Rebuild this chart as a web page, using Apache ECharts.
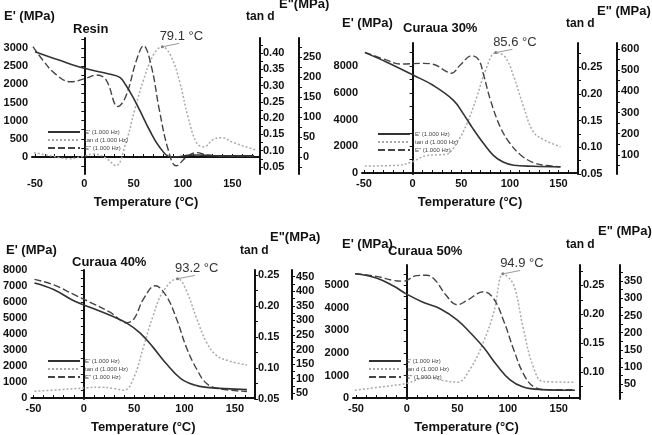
<!DOCTYPE html>
<html>
<head>
<meta charset="utf-8">
<script src="https://cdn.jsdelivr.net/npm/echarts@6/dist/echarts.min.js"></script>
<style>
html,body{margin:0;padding:0;background:#fff}
#chart{width:652px;height:435px}
</style>
</head>
<body>
<div id="chart"></div>
<script>
// ---- data: [temperature °C, value] ----
// Resin
var resinStorage = [[-50,2898],[-25,2660],[0,2440],[25,2285],[36,2193],[42,1982],[49,1660],[56,1294],[66,743],[76,284],[87,8],[95,5],[105,45],[115,55],[130,35],[172,30]];
var resinLoss = [[-52,276],[-42,242],[-30,209],[-14,188],[2,197],[12,205],[22,193],[34,126],[42,151],[53,243],[60,278],[68,226],[76,118],[85,18],[93,-22],[104,1],[114,11],[124,5],[151,2],[174,2]];
var resinTan = [[-51,0.094],[-33,0.084],[-16,0.075],[-2,0.082],[10,0.090],[22,0.077],[32,0.054],[42,0.123],[51,0.225],[60,0.317],[70,0.394],[79,0.419],[88,0.389],[97,0.307],[105,0.204],[114,0.123],[121,0.112],[131,0.135],[139,0.140],[151,0.125],[174,0.102]];
// Curaua 30%
var c30Storage = [[-49,9000],[-27,8300],[1,7305],[21,6557],[42,5436],[52,4440],[62,3320],[73,2198],[83,1323],[93,822],[104,576],[124,500],[152,450]];
var c30Loss = [[-49,584],[-27,548],[-13,529],[11,532],[21,528],[35,493],[40,485],[49,524],[61,568],[68,548],[73,477],[80,359],[90,233],[100,155],[111,100],[124,64],[138,50],[152,45]];
var c30Tan = [[-49,0.065],[-17,0.066],[0,0.073],[13,0.084],[27,0.086],[35,0.087],[45,0.107],[56,0.145],[66,0.194],[75,0.244],[85.6,0.277],[95,0.269],[104,0.232],[114,0.176],[124,0.129],[135,0.114],[152,0.101]];
// Curaua 40%
var c40Storage = [[-49,7194],[-30,6788],[-10,6079],[10,5576],[26,5170],[43,4667],[56,4060],[69,3150],[82,2140],[96,1230],[109,830],[122,667],[162,527]];
var c40Loss = [[-49,441],[-30,422],[-10,389],[10,356],[26,328],[43,292],[50,306],[59,372],[71,419],[82,383],[92,306],[102,206],[112,133],[122,83],[135,65],[162,56]];
var c40Tan = [[-49,0.0625],[-24,0.065],[3,0.068],[16,0.069],[30,0.067],[40,0.064],[50,0.086],[59,0.133],[69,0.185],[79,0.224],[93.2,0.244],[102,0.224],[112,0.180],[122,0.141],[132,0.120],[145,0.111],[162,0.105]];
// Curaua 50%
var c50Storage = [[-51,5517],[-30,5330],[-13,4970],[0,4612],[16,4254],[33,3966],[50,3461],[63,2888],[76,2241],[89,1453],[102,806],[115,487],[132,375],[166,345]];
var c50Loss = [[-51,372],[-30,364],[-13,352],[-3,350],[10,366],[20,367],[29,350],[38,312],[50,281],[59,293],[76,319],[86,298],[96,232],[106,147],[115,81],[125,43],[138,34],[166,34]];
var c50Tan = [[-51,0.068],[-19,0.075],[0,0.080],[20,0.090],[36,0.085],[50,0.082],[63,0.106],[76,0.153],[86,0.204],[94.9,0.270],[99,0.266],[106,0.249],[115,0.176],[125,0.108],[135,0.083],[166,0.082]];

// peak annotations (tan d)
var peaks = [[79.1, 0.419], [85.6, 0.277], [93.2, 0.244], [94.9, 0.270]];
var peakLabels = ['79.1 °C', '85.6 °C', '93.2 °C', '94.9 °C'];
var panelTitles = ['Resin', 'Curaua 30%', 'Curaua 40%', 'Curaua 50%'];
var seriesNames = ["E' (1.000 Hz)", 'tan d (1.000 Hz)', 'E" (1.000 Hz)'];

// tick labels
var tempTicks = [-50, 0, 50, 100, 150];
var storageTicks = [
  [0, 500, 1000, 1500, 2000, 2500, 3000],
  [0, 2000, 4000, 6000, 8000],
  [0, 1000, 2000, 3000, 4000, 5000, 6000, 7000, 8000],
  [0, 1000, 2000, 3000, 4000, 5000]
];
var tanTicks = [
  [0.05, 0.10, 0.15, 0.20, 0.25, 0.30, 0.35, 0.40],
  [0.05, 0.10, 0.15, 0.20, 0.25],
  [0.05, 0.10, 0.15, 0.20, 0.25],
  [0.10, 0.15, 0.20, 0.25]
];
var lossTicks = [
  [0, 50, 100, 150, 200, 250],
  [100, 200, 300, 400, 500, 600],
  [50, 100, 150, 200, 250, 300, 350, 400, 450],
  [50, 100, 150, 200, 250, 300, 350]
];

var storage = [resinStorage, c30Storage, c40Storage, c50Storage];
var loss = [resinLoss, c30Loss, c40Loss, c50Loss];
var tan = [resinTan, c30Tan, c40Tan, c50Tan];

// ---- layout of each panel ----
var layout = [
  {grid: {left: 32, top: 38, width: 228, height: 136}, x: [-53, 178], ep: [-468, 3275], td: [0.0285, 0.446], epp: [-42.5, 297.5], off: 39,
   leg: [42, 124], titles: [[4, 18, "E' (MPa)"], [246, 19, 'tan d'], [279, 6, 'E"(MPa)'], [73, 31]]},
  {grid: {left: 362, top: 43, width: 216, height: 131}, x: [-52, 170], ep: [-75, 9720], td: [0.05, 0.295], epp: [10, 628], off: 39,
   leg: [372, 126], titles: [[342, 25, "E' (MPa)"], [566, 26, 'tan d'], [597, 13, 'E" (MPa)'], [403, 30]]},
  {grid: {left: 31, top: 270, width: 224, height: 133}, x: [-52, 170], ep: [-60, 8000], td: [0.05, 0.258], epp: [30, 473], off: 37,
   leg: [42, 353], titles: [[6, 252, "E' (MPa)"], [240, 253, 'tan d'], [270, 239, 'E"(MPa)'], [72, 264]]},
  {grid: {left: 353, top: 265, width: 227, height: 138}, x: [-53, 171], ep: [-43, 5905], td: [0.0528, 0.2854], epp: [6.7, 397], off: 40,
   leg: [363, 353], titles: [[342, 246, "E' (MPa)"], [566, 247, 'tan d'], [598, 233, 'E" (MPa)'], [388, 253]]}
];

function steps(a, b, s) {
  var out = [];
  for (var v = Math.ceil(a / s) * s; v <= b + 1e-9; v += s) out.push(+v.toFixed(4));
  return out;
}
function plain(v) { return String(v); }

var font = 'Liberation Sans, Arial, sans-serif';
var axisLine = {show: true, lineStyle: {color: '#111', width: 2}};

var grids = [], xAxes = [], yAxes = [], series = [], legends = [], graphics = [];

layout.forEach(function (p, i) {
  grids.push(p.grid);
  xAxes.push({
    type: 'value', gridIndex: i, min: p.x[0], max: p.x[1],
    name: 'Temperature (°C)', nameLocation: 'middle', nameGap: 22,
    nameTextStyle: {fontFamily: font, fontWeight: 'bold', fontSize: 13, color: '#111'},
    axisLine: axisLine,
    axisTick: {show: true, inside: true, length: 3, customValues: steps(p.x[0], p.x[1], 10), lineStyle: {color: '#111'}},
    axisLabel: {customValues: tempTicks, formatter: plain, fontFamily: font, fontWeight: 'bold', fontSize: 11, color: '#111', margin: 4},
    splitLine: {show: false}
  });
  var st = storageTicks[i], tt = tanTicks[i], lt = lossTicks[i];
  yAxes.push({
    type: 'value', gridIndex: i, position: 'left', min: p.ep[0], max: p.ep[1],
    axisLine: axisLine,
    axisTick: {show: true, length: 3, customValues: steps(p.ep[0], p.ep[1], (st[1] - st[0]) / 2), lineStyle: {color: '#111'}},
    axisLabel: {customValues: st, formatter: plain, fontFamily: font, fontWeight: 'bold', fontSize: 11, color: '#111', margin: 4},
    splitLine: {show: false}
  });
  yAxes.push({
    type: 'value', gridIndex: i, position: 'right', min: p.td[0], max: p.td[1],
    axisLine: axisLine,
    axisTick: {show: true, length: 3, customValues: steps(p.td[0], p.td[1], 0.025), lineStyle: {color: '#111'}},
    axisLabel: {customValues: tt, formatter: function (v) { return v.toFixed(2); },
      fontFamily: font, fontWeight: 'bold', fontSize: 11, color: '#111', margin: 3},
    splitLine: {show: false}
  });
  yAxes.push({
    type: 'value', gridIndex: i, position: 'right', offset: p.off, min: p.epp[0], max: p.epp[1],
    axisLine: axisLine,
    axisTick: {show: true, length: 3, customValues: steps(p.epp[0], p.epp[1], (lt[1] - lt[0]) / 2), lineStyle: {color: '#111'}},
    axisLabel: {customValues: lt, formatter: plain, fontFamily: font, fontWeight: 'bold', fontSize: 11, color: '#111', margin: 4},
    splitLine: {show: false}
  });
  var y0 = i * 3;
  series.push({
    name: seriesNames[0], type: 'line', xAxisIndex: i, yAxisIndex: y0, data: storage[i],
    smooth: 0.4, symbol: 'none', lineStyle: {color: '#333', width: 1.6}, itemStyle: {color: '#333'}, z: 4
  });
  series.push({
    name: seriesNames[1], type: 'line', xAxisIndex: i, yAxisIndex: y0 + 1, data: tan[i],
    smooth: 0.4, symbol: 'none', lineStyle: {color: '#aaa', width: 1.5, type: [2, 2]}, itemStyle: {color: '#aaa'}, z: 3
  });
  series.push({
    name: seriesNames[2], type: 'line', xAxisIndex: i, yAxisIndex: y0 + 2, data: loss[i],
    smooth: 0.4, symbol: 'none', lineStyle: {color: '#444', width: 1.4, type: [7, 3]}, itemStyle: {color: '#444'}, z: 3
  });
  // tan d peak with its temperature label and leader line
  series.push({
    name: 'peak', type: 'line', xAxisIndex: i, yAxisIndex: y0 + 1,
    data: [peaks[i], [peaks[i][0] + 17, peaks[i][1] + (p.td[1] - p.td[0]) * 0.025]],
    symbol: 'none', lineStyle: {color: '#999', width: 1}, z: 5,
    markPoint: {
      symbol: 'circle', symbolSize: 3, itemStyle: {color: '#777'},
      data: [{coord: peaks[i], value: peakLabels[i]}],
      label: {show: true, position: 'top', offset: [19, 0], formatter: '{c}', fontFamily: font, fontSize: 13, color: '#333', distance: 2}
    }
  });
  legends.push({
    left: p.leg[0], top: p.leg[1], orient: 'vertical', data: seriesNames,
    itemWidth: 32, itemHeight: 5, itemGap: 2,
    itemStyle: {opacity: 0},
    textStyle: {fontFamily: font, fontSize: 6, color: '#444', width: 44, align: 'right'}
  });
  p.titles.forEach(function (t, k) {
    var isPanel = k === 3;
    graphics.push({
      type: 'text', left: t[0], top: t[1] - 8,
      style: {text: isPanel ? panelTitles[i] : t[2], font: 'bold ' + (k === 1 ? 12 : 13) + 'px ' + font, fill: '#111'}
    });
  });
});

var myChart = echarts.init(document.getElementById('chart'));
myChart.setOption({
  animation: false,
  grid: grids,
  xAxis: xAxes,
  yAxis: yAxes,
  legend: legends,
  series: series,
  graphic: graphics
});
</script>
</body>
</html>
